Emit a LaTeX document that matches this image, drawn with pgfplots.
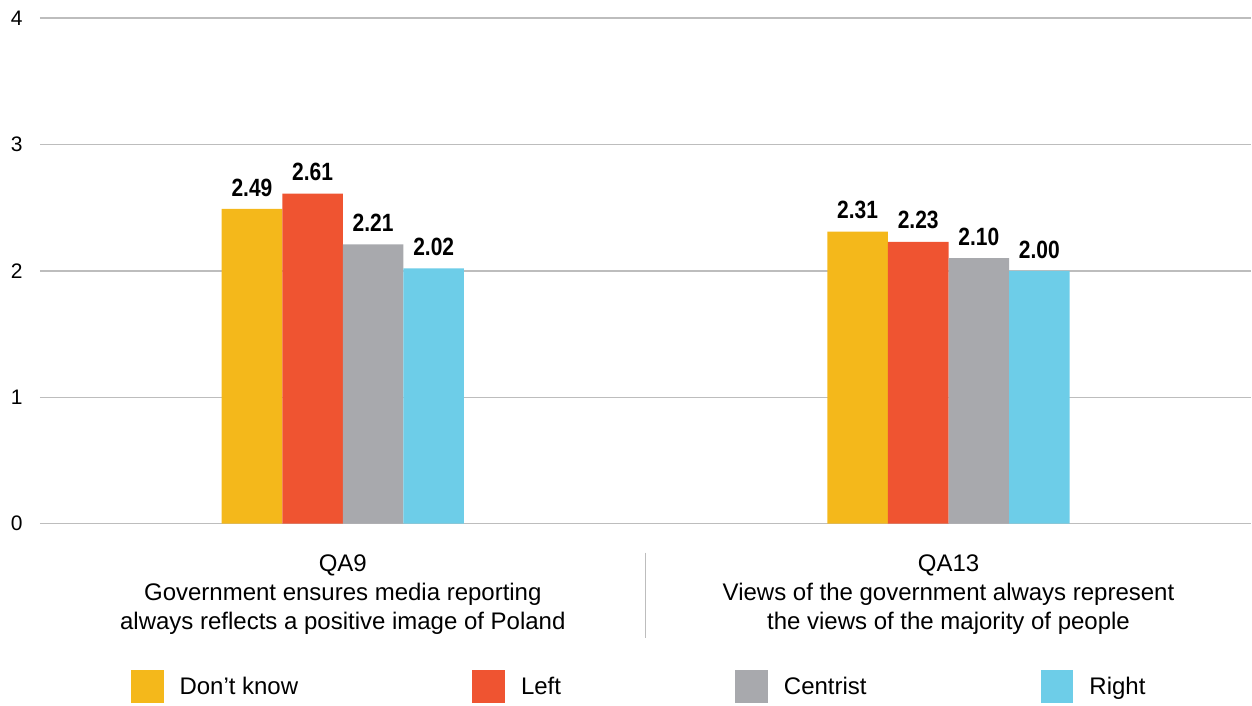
\documentclass[border=0pt]{standalone}
\usepackage{fontspec}
\setmainfont{Liberation Sans}
\newfontfamily\cond[FakeStretch=0.84]{Liberation Sans}
\usepackage{pgfplots}
\pgfplotsset{compat=1.18}
\definecolor{cyel}{HTML}{F4B81B}
\definecolor{cred}{HTML}{EF5431}
\definecolor{cgry}{HTML}{A8A9AD}
\definecolor{cblu}{HTML}{6DCDE8}
\definecolor{cgrid}{HTML}{BDBDBD}
\begin{document}
\begin{tikzpicture}
\begin{axis}[
  name=ax,
  scale only axis,
  width=1212bp, height=506bp,
  xmin=-0.5, xmax=1.5, ymin=0, ymax=4,
  axis line style={draw=none},
  ybar=0pt, bar width=60.6bp,
  ytick={0,1,2,3,4},
  ymajorgrids, grid style={cgrid, line width=1.3bp},
  major tick length=0pt,
  xtick={0,1},
  xticklabels={{QA9\\Government ensures media reporting\\always reflects a positive image of Poland},
               {QA13\\Views of the government always represent\\the views of the majority of people}},
  xticklabel style={align=center, font=\fontsize{24bp}{29bp}\selectfont, anchor=north, yshift=-28bp},
  yticklabel style={font=\fontsize{21bp}{24bp}\selectfont, anchor=east, xshift=-14bp},
  /pgf/number format/assume math mode=true,
  nodes near coords,
  nodes near coords style={font=\fontsize{25bp}{28bp}\selectfont\cond\bfseries, anchor=south, yshift=9bp,
     /pgf/number format/.cd, fixed, fixed zerofill, precision=2},
  clip=false,
  legend columns=4,
  legend style={at={(rel axis cs:0.4945,-0.322)}, anchor=center, draw=none, fill=none,
     font=\fontsize{24bp}{28bp}\selectfont,
     /tikz/every odd column/.append style={column sep=14bp},
     /tikz/every even column/.append style={column sep=172bp}},
  legend image code/.code={\fill[#1] (0bp,-16.5bp) rectangle (33bp,16.5bp);},
]
\addplot[fill=cyel, draw=none] coordinates {(0,2.49) (1,2.31)};
\addplot[fill=cred, draw=none] coordinates {(0,2.61) (1,2.23)};
\addplot[fill=cgry, draw=none] coordinates {(0,2.21) (1,2.10)};
\addplot[fill=cblu, draw=none] coordinates {(0,2.02) (1,2.00)};
\legend{Don’t know, Left, Centrist, Right}
\draw[cgrid, line width=1.3bp] (axis cs:0.5,-0.229) -- (axis cs:0.5,-0.901);
\end{axis}
\path ([xshift=-40bp,yshift=18bp]ax.north west) rectangle ([yshift=-180bp]ax.south east);
\end{tikzpicture}
\end{document}
